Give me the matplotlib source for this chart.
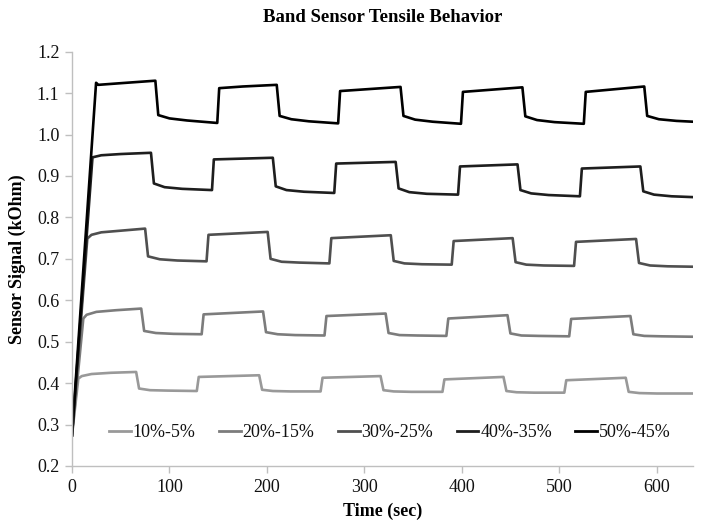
import matplotlib
matplotlib.use("Agg")
import matplotlib.pyplot as plt
from matplotlib.ticker import MultipleLocator, FormatStrFormatter

plt.rcParams["font.family"] = ["Liberation Serif", "DejaVu Serif"]

# time (sec) / signal (kOhm)
t_10 = [0, 6.5, 10, 20, 40, 65.8, 68.8, 80, 98, 128, 130, 192, 195, 206, 224, 255, 257,
        316.5, 319.5, 330, 348, 380, 382, 442.6, 445.6, 456, 474, 505, 507, 568, 571,
        582, 600, 637]
v_10 = [0.274, 0.411, 0.417, 0.422, 0.425, 0.427, 0.387, 0.383, 0.382, 0.381, 0.415,
        0.419, 0.384, 0.381, 0.380, 0.380, 0.413, 0.417, 0.383, 0.380, 0.379, 0.379,
        0.409, 0.415, 0.381, 0.378, 0.377, 0.377, 0.407, 0.413, 0.379, 0.376, 0.375,
        0.375]

t_20 = [0, 11.6, 15, 25, 45, 71, 74, 86, 104, 133, 135, 196, 199, 211, 229, 259, 261,
        321.7, 324.7, 336, 354, 384, 386, 446.7, 449.7, 461, 479, 510, 512, 572.8,
        575.8, 587, 605, 637]
v_20 = [0.274, 0.556, 0.565, 0.572, 0.576, 0.580, 0.526, 0.521, 0.519, 0.518, 0.566,
        0.573, 0.523, 0.518, 0.516, 0.515, 0.562, 0.568, 0.521, 0.516, 0.515, 0.514,
        0.556, 0.564, 0.520, 0.515, 0.514, 0.513, 0.555, 0.562, 0.518, 0.514, 0.513,
        0.512]

t_30 = [0, 15.7, 20, 30, 50, 75, 78, 90, 108, 138, 140, 200.7, 203.7, 215, 233, 264,
        266, 327, 330, 341, 359, 389.5, 391.5, 452, 455, 466, 484, 515, 517, 578.6,
        581.6, 593, 611, 637]
v_30 = [0.274, 0.749, 0.758, 0.764, 0.768, 0.773, 0.706, 0.699, 0.696, 0.694, 0.758,
        0.765, 0.700, 0.693, 0.691, 0.689, 0.750, 0.757, 0.695, 0.689, 0.687, 0.686,
        0.743, 0.750, 0.692, 0.686, 0.684, 0.683, 0.741, 0.748, 0.690, 0.684, 0.682,
        0.681]

t_40 = [0, 21, 30, 50, 81, 84, 95, 113, 143.6, 145.5, 206, 209, 220, 238, 269, 271,
        332, 335, 346, 364, 396, 398, 457, 460, 471, 489, 521, 523, 583, 586, 597,
        615, 637]
v_40 = [0.274, 0.945, 0.950, 0.953, 0.956, 0.882, 0.873, 0.869, 0.866, 0.940, 0.944,
        0.875, 0.866, 0.862, 0.859, 0.930, 0.934, 0.870, 0.861, 0.857, 0.855, 0.923,
        0.928, 0.866, 0.858, 0.854, 0.851, 0.918, 0.923, 0.863, 0.855, 0.851, 0.849]

t_50 = [0, 24.7, 27, 50, 85.5, 88.5, 100, 118, 149, 151, 175, 210, 213, 225, 243, 273,
        275, 337, 340, 352, 370, 399, 401, 462, 465, 477, 495, 525, 527, 587, 590, 602,
        620, 637]
v_50 = [0.274, 1.125, 1.120, 1.124, 1.130, 1.047, 1.039, 1.034, 1.028, 1.112, 1.116,
        1.120, 1.045, 1.037, 1.032, 1.027, 1.105, 1.115, 1.045, 1.036, 1.031, 1.026,
        1.103, 1.114, 1.044, 1.035, 1.030, 1.026, 1.103, 1.116, 1.045, 1.037, 1.033,
        1.031]

labels = ["10%-5%", "20%-15%", "30%-25%", "40%-35%", "50%-45%"]
colors = ["#999999", "#7c7c7c", "#4f4f4f", "#1e1e1e", "#000000"]

series = [(t_10, v_10), (t_20, v_20), (t_30, v_30), (t_40, v_40), (t_50, v_50)]

fig = plt.figure(figsize=(7.02, 5.27), dpi=100)
ax = fig.add_axes([72 / 702, 1 - 466 / 527, 621 / 702, (466 - 51.7) / 527])

for (t, v), label, color in zip(series, labels, colors):
    ax.plot(t, v, color=color, lw=1.9, label=label, solid_joinstyle="round")

ax.set_xlim(0, 637)
ax.set_ylim(0.2, 1.2)
ax.xaxis.set_major_locator(MultipleLocator(100))
ax.yaxis.set_major_locator(MultipleLocator(0.1))
ax.yaxis.set_major_formatter(FormatStrFormatter("%.1f"))

for side in ["top", "right"]:
    ax.spines[side].set_visible(False)
for side in ["left", "bottom"]:
    ax.spines[side].set_color("#bfbfbf")
    ax.spines[side].set_linewidth(1.0)
ax.tick_params(axis="both", direction="out", length=5, width=1.0, color="#bfbfbf",
               labelsize=13, labelcolor="#111111", pad=4)

fig.text((72 + 693) / 2 / 702, 1 - 17 / 527, "Band Sensor Tensile Behavior",
         ha="center", va="center", fontsize=13.5, fontweight="bold")
ax.set_xlabel("Time (sec)", fontsize=13, fontweight="bold", labelpad=5)
ax.set_ylabel("Sensor Signal (kOhm)", fontsize=13, fontweight="bold", labelpad=8)

leg = ax.legend(loc="center", bbox_to_anchor=(0.512, 0.08), ncol=5, frameon=False,
                fontsize=13, handlelength=1.2, handletextpad=0.1, columnspacing=1.3)
for line in leg.get_lines():
    line.set_linewidth(2.0)
for txt in leg.get_texts():
    txt.set_color("#111111")

fig.savefig("out.png", dpi=100)
